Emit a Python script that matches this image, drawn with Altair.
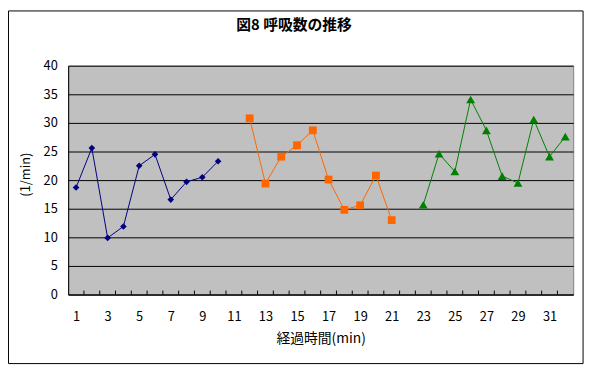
import altair as alt
import pandas as pd

# ---- data ----
t_a = [1, 2, 3, 4, 5, 6, 7, 8, 9, 10]
v_a = [18.7, 25.6, 9.9, 11.9, 22.5, 24.5, 16.6, 19.7, 20.5, 23.3]
t_b = [12, 13, 14, 15, 16, 17, 18, 19, 20, 21]
v_b = [30.8, 19.4, 24.1, 26.1, 28.7, 20.1, 14.8, 15.6, 20.8, 13.0]
t_c = [23, 24, 25, 26, 27, 28, 29, 30, 31, 32]
v_c = [15.7, 24.6, 21.5, 34.1, 28.7, 20.7, 19.5, 30.6, 24.1, 27.6]
series_names = ["A", "B", "C"]
series_colors = ["#000080", "#FF6600", "#008000"]
series_shapes = ["diamond", "square", "triangle-up"]
series_sizes = [45, 80, 60]
x_labels = [1, 3, 5, 7, 9, 11, 13, 15, 17, 19, 21, 23, 25, 27, 29, 31]
y_ticks = [0, 5, 10, 15, 20, 25, 30, 35, 40]
boundaries = [i + 0.5 for i in range(1, 32)]
chart_title = "図8  呼吸数の推移"

rows = []
for name, ts, vs in zip(series_names, [t_a, t_b, t_c], [v_a, v_b, v_c]):
    for t, v in zip(ts, vs):
        rows.append({"t": t, "v": v, "s": name})
df = pd.DataFrame(rows)
df_ticks = pd.DataFrame({"b": boundaries})
df_title = pd.DataFrame({"txt": [chart_title]})

W, H = 512, 232
FONT = "Noto Sans CJK JP"

x_scale = alt.Scale(domain=[0.5, 32.5], nice=False, zero=False)
y_scale = alt.Scale(domain=[0, 40], nice=False)

x_axis = alt.Axis(values=x_labels, tickSize=0, grid=False, labelPadding=16,
                  labelOverlap=False, labelFlush=False,
                  title="経過時間(min)", titlePadding=9, domainColor="black",
                  labelFontSize=13, titleFontSize=14, labelFont=FONT, titleFont=FONT,
                  labelColor="black", titleColor="black", titleFontWeight="normal")
y_axis = alt.Axis(values=y_ticks, tickSize=0, grid=True, gridColor="black", gridOpacity=1,
                  gridWidth=1, labelPadding=11, domainColor="black",
                  labelOverlap=False, labelFlush=False,
                  title="(1/min)", titleAngle=-90, titleX=-43, titleY=110,
                  titleAlign="center", titleBaseline="middle",
                  labelFontSize=13, titleFontSize=13, labelFont=FONT, titleFont=FONT,
                  labelColor="black", titleColor="black", titleFontWeight="normal")

x_enc = alt.X("t:Q", scale=x_scale, axis=x_axis)
y_enc = alt.Y("v:Q", scale=y_scale, axis=y_axis)

color = alt.Color("s:N", scale=alt.Scale(domain=series_names, range=series_colors), legend=None)
shape = alt.Shape("s:N", scale=alt.Scale(domain=series_names, range=series_shapes), legend=None)
size = alt.Size("s:N", scale=alt.Scale(domain=series_names, range=series_sizes), legend=None)

lines = alt.Chart(df).mark_line(strokeWidth=1).encode(x=x_enc, y=y_enc, color=color, detail="s:N")
points = alt.Chart(df).mark_point(filled=True, opacity=1).encode(
    x=x_enc, y=y_enc, color=color, shape=shape, size=size)

ticks = alt.Chart(df_ticks).mark_rule(color="black", strokeWidth=1).encode(
    x=alt.X("b:Q", scale=x_scale, axis=x_axis), y=alt.value(H), y2=alt.value(H - 4))

border = alt.Chart(df_title).mark_rect(fill=None, stroke="black", strokeWidth=1, clip=False).encode(
    x=alt.value(-60.5), x2=alt.value(522), y=alt.value(-55.5), y2=alt.value(302))

title = alt.Chart(df_title).mark_text(font=FONT, fontSize=15, fontWeight="bold", color="black",
                                      align="center", baseline="middle").encode(
    text="txt:N", x=alt.value(229), y=alt.value(-41))

chart = alt.layer(lines, ticks, points, border, title).properties(
    width=W, height=H,
    padding={"left": 61, "top": 56, "right": 15, "bottom": 73},
    autosize=alt.AutoSizeParams(type="none"),
    background="white",
).configure_view(
    fill="#C0C0C0", stroke="#808080", strokeWidth=1
)

chart.save("out.html", embed_options={"renderer": "svg", "actions": False})
